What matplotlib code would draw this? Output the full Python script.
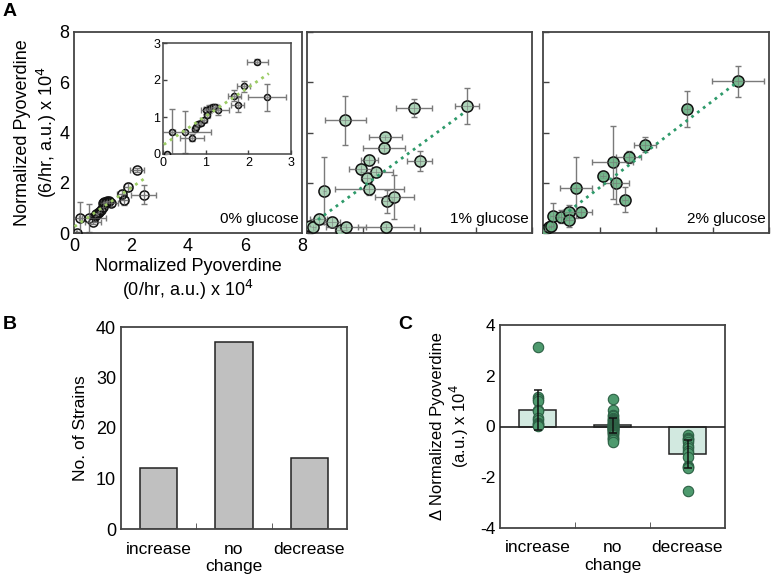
import matplotlib
matplotlib.use("Agg")
import matplotlib.pyplot as plt
import numpy as np

plt.rcParams['font.family'] = ['Liberation Sans', 'DejaVu Sans']
plt.rcParams['axes.unicode_minus'] = False

# ---- data: panel A (x = 0/hr, y = 6/hr, x 1e4) ----
g0_x = [0.09, 0.22, 0.52, 0.68, 0.74, 0.78, 0.83, 0.88, 0.95, 1.00, 1.03,
        1.07, 1.12, 1.17, 1.22, 1.29, 1.67, 1.75, 1.89, 2.21, 2.44]
g0_y = [0.01, 0.60, 0.59, 0.44, 0.68, 0.74, 0.80, 0.84, 0.92, 1.18, 1.05,
        1.22, 1.25, 1.26, 1.28, 1.18, 1.57, 1.33, 1.83, 2.50, 1.53]
g0_xerr = [0.03, 0.05, 0.60, 0.28, 0.05, 0.05, 0.06, 0.06, 0.08, 0.10, 0.08,
           0.10, 0.10, 0.08, 0.10, 0.25, 0.15, 0.15, 0.15, 0.25, 0.45]
g0_yerr = [0.02, 0.62, 0.57, 0.10, 0.05, 0.05, 0.05, 0.06, 0.06, 0.10, 0.08,
           0.10, 0.08, 0.08, 0.08, 0.12, 0.15, 0.20, 0.15, 0.08, 0.37]

g1_x = [0.09, 0.23, 0.42, 0.62, 0.89, 1.21, 1.39, 1.36, 1.91, 2.12, 2.22,
        2.22, 2.47, 2.73, 2.79, 2.81, 2.85, 3.11, 3.80, 4.00, 5.69]
g1_y = [0.29, 0.23, 0.57, 1.69, 0.44, 0.11, 0.24, 4.49, 2.55, 2.19, 2.91,
        1.75, 2.44, 3.37, 3.82, 0.24, 1.26, 1.43, 4.98, 2.85, 5.04]
g1_xerr = [0.05, 0.10, 0.30, 0.05, 0.30, 0.20, 0.70, 0.72, 0.40, 0.20, 0.30,
           1.24, 0.60, 0.75, 0.58, 0.98, 0.20, 0.70, 0.65, 0.45, 0.42]
g1_yerr = [0.05, 0.10, 0.20, 1.35, 0.20, 0.10, 0.10, 0.98, 0.15, 0.15, 0.20,
           0.25, 0.15, 0.15, 0.10, 0.10, 0.45, 0.88, 0.35, 0.40, 0.72]

g2_x = [0.06, 0.21, 0.29, 0.36, 0.65, 0.91, 0.91, 1.17, 1.36, 2.12, 2.47,
        2.58, 2.90, 3.03, 3.61, 5.09, 6.91]
g2_y = [0.11, 0.22, 0.26, 0.69, 0.65, 0.83, 0.50, 1.81, 0.82, 2.27, 2.81,
        1.99, 1.32, 3.02, 3.51, 4.93, 6.04]
g2_xerr = [0.05, 0.10, 0.10, 0.10, 0.15, 0.20, 0.20, 0.57, 0.38, 0.10, 0.73,
           0.46, 0.10, 0.43, 0.38, 0.10, 0.92]
g2_yerr = [0.05, 0.10, 0.10, 0.50, 0.25, 0.30, 0.25, 1.20, 0.20, 0.10, 1.45,
           0.85, 0.50, 0.25, 0.30, 0.72, 0.62]

fit0 = (0.78, 0.24, 0.02, 2.48)   # slope, intercept, x start, x end
fit1 = (0.82, 0.21, 0.39, 5.66)
fit2 = (0.862, 0.08, 0.91, 6.88)

# ---- data: panels B and C ----
categories = ['increase', 'no\nchange', 'decrease']
strain_counts = [12, 37, 14]
delta_means = [0.65, 0.05, -1.07]
delta_err = [0.80, 0.30, 0.55]
delta_inc = [3.12, 1.15, 1.10, 1.00, 0.65, 0.60, 0.35, 0.25, 0.15, 0.10, 0.05, 0.02]
delta_none = [1.10, 0.65, 0.45, 0.40, 0.35, 0.30, 0.25, 0.20, 0.20, 0.15, 0.12,
              0.10, 0.08, 0.05, 0.05, 0.02, 0.00, 0.00, -0.02, -0.05, -0.05,
              -0.08, -0.10, -0.10, -0.12, -0.15, -0.18, -0.20, -0.22, -0.25,
              -0.30, -0.35, -0.40, -0.45, -0.50, -0.55, -0.62]
delta_dec = [-0.35, -0.45, -0.50, -0.55, -0.60, -0.75, -0.85, -0.95, -1.05,
             -1.20, -1.55, -1.60, -1.65, -2.55]

W, H = 771, 581
fig = plt.figure(figsize=(W / 100, H / 100), dpi=100)


def px_axes(x0, y0, x1, y1):
    return fig.add_axes([x0 / W, 1 - y1 / H, (x1 - x0) / W, (y1 - y0) / H])


def style(ax, lw=1.3):
    for s in ax.spines.values():
        s.set_color('#444444')
        s.set_linewidth(lw)
    ax.tick_params(direction='in', length=4, width=1, color='#444444')


def scatter_panel(ax, x, y, xe, ye, face, ms, fit, fitcolor, fitlw=2.0):
    ax.errorbar(x, y, xerr=xe, yerr=ye, fmt='none', ecolor='#7a7a7a',
                elinewidth=1, capsize=2.5, capthick=1, zorder=2)
    ax.plot(x, y, 'o', ms=ms, mfc=face, mec='#111111', mew=1.1, zorder=3)
    ax.errorbar(x, y, xerr=xe, yerr=ye, fmt='none', ecolor='#7a7a7a',
                elinewidth=0.6, capsize=0, zorder=4, alpha=0.6)
    xs = np.array([fit[2], fit[3]])
    ax.plot(xs, fit[0] * xs + fit[1], ':', color=fitcolor, lw=fitlw, zorder=5)


# ---- panel A ----
axA = [px_axes(74, 32, 302, 233), px_axes(307, 32, 532, 233), px_axes(543, 32, 769, 233)]
sets = [(g0_x, g0_y, g0_xerr, g0_yerr, 'none', 6.5, fit0, '#9ccc65', '0% glucose'),
        (g1_x, g1_y, g1_xerr, g1_yerr, (0.65, 0.82, 0.70, 0.9), 8, fit1, '#2e9a6a', '1% glucose'),
        (g2_x, g2_y, g2_xerr, g2_yerr, (0.42, 0.70, 0.52, 0.9), 8, fit2, '#2e9a6a', '2% glucose')]
for i, (ax, d) in enumerate(zip(axA, sets)):
    scatter_panel(ax, d[0], d[1], d[2], d[3], d[4], d[5], d[6], d[7])
    ax.set_xlim(0, 8)
    ax.set_ylim(0, 8)
    ax.set_xticks([0, 2, 4, 6, 8])
    ax.set_yticks([0, 2, 4, 6, 8])
    style(ax)
    ax.text(0.985, 0.035, d[8], transform=ax.transAxes, ha='right', va='bottom', fontsize=11)
    if i == 0:
        ax.tick_params(labelsize=13, length=0)
        ax.set_ylabel('Normalized Pyoverdine\n(6/hr, a.u.) x 10$^4$', fontsize=13, labelpad=0)
        ax.set_xlabel('Normalized Pyoverdine\n(0/hr, a.u.) x 10$^4$', fontsize=13, labelpad=2)
    else:
        ax.set_xticklabels([])
        ax.set_yticklabels([])

# inset
axI = px_axes(163, 43, 291, 154)
scatter_panel(axI, g0_x, g0_y, g0_xerr, g0_yerr, (0.75, 0.75, 0.75, 0.6), 4.3, fit0, '#9ccc65', 2.0)
axI.set_xlim(0, 3)
axI.set_ylim(0, 3)
axI.set_xticks([0, 1, 2, 3])
axI.set_yticks([0, 1, 2, 3])
style(axI, 1.1)
axI.tick_params(labelsize=9, length=3, pad=2)

# ---- panel B ----
axB = px_axes(121, 327, 347, 529)
xpos = np.arange(len(categories))
axB.bar(xpos, strain_counts, width=0.5, color='#c0c0c0', edgecolor='#222222', lw=1.1)
axB.set_xlim(-0.5, 2.5)
axB.set_ylim(0, 40)
axB.set_yticks([0, 10, 20, 30, 40])
axB.set_xticks(xpos)
axB.set_xticklabels(categories, fontsize=12.5)
axB.set_xticks([0.5, 1.5], minor=True)
style(axB)
axB.tick_params(axis='x', which='major', length=0, pad=9)
axB.tick_params(axis='x', which='minor', direction='in', length=4, color='#444444')
axB.tick_params(axis='y', length=0, labelsize=13)
axB.set_ylabel('No. of Strains', fontsize=12.5, labelpad=6)

# ---- panel C ----
axC = px_axes(500, 325, 725, 528)
axC.bar(xpos, delta_means, width=0.5, color='#d2e9e0', edgecolor='#222222', lw=1.1, zorder=2)
axC.axhline(0, color='#222222', lw=1.2, zorder=3)
for xp, vals in zip(xpos, [delta_inc, delta_none, delta_dec]):
    axC.plot([xp] * len(vals), vals, 'o', ms=7.5, mfc='#4e9a6e', mec='#2d6145', mew=0.8, zorder=4)
axC.errorbar(xpos, delta_means, yerr=delta_err, fmt='none', ecolor='#111111',
             elinewidth=1.1, capsize=3, capthick=1.1, zorder=5)
axC.set_xlim(-0.5, 2.5)
axC.set_ylim(-4, 4)
axC.set_yticks([-4, -2, 0, 2, 4])
axC.set_xticks(xpos)
axC.set_xticklabels(categories, fontsize=12.5)
axC.set_xticks([0.5, 1.5], minor=True)
style(axC)
axC.tick_params(axis='x', which='major', length=0, pad=9)
axC.tick_params(axis='x', which='minor', direction='in', length=4, color='#444444')
axC.tick_params(axis='y', length=0, labelsize=12.5)
axC.set_ylabel('\u0394 Normalized Pyoverdine\n(a.u.) x 10$^4$', fontsize=12, labelpad=6)

# panel letters
fig.text(3 / W, 1 - 3 / H, 'A', fontsize=14, fontweight='bold', va='top')
fig.text(3 / W, 1 - 316 / H, 'B', fontsize=14, fontweight='bold', va='top')
fig.text(398 / W, 1 - 316 / H, 'C', fontsize=14, fontweight='bold', va='top')

fig.savefig('out.png', dpi=100)
